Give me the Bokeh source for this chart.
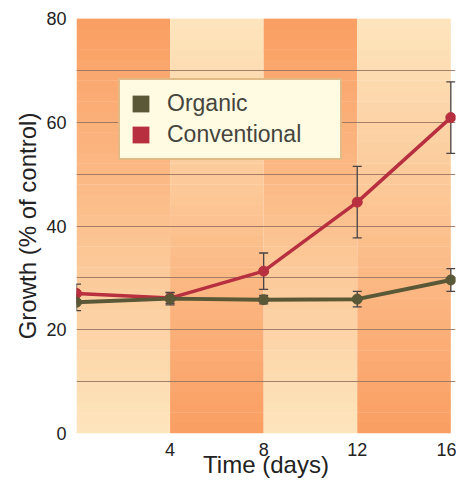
import numpy as np
from bokeh.plotting import figure
from bokeh.models import FixedTicker, Legend, LegendItem, Range1d
from bokeh.embed import file_html
from bokeh.resources import INLINE

# ---- data ----
days = [0, 4, 8, 12, 16]
organic = [25.3, 26.0, 25.8, 25.9, 29.6]
organic_err = [1.6, 1.2, 0.8, 1.5, 2.2]
conventional = [27.0, 26.1, 31.3, 44.6, 60.9]
conventional_err = [1.8, 1.0, 3.5, 6.9, 6.9]
x_ticks = [4, 8, 12, 16]
y_ticks = [0, 20, 40, 60, 80]
grid_ticks = [0, 10, 20, 30, 40, 50, 60, 70, 80]
band_edges = [0, 4, 8, 12, 16]

ORG = "#5a5836"
CONV = "#b8303f"
ERR = "#4a4245"
FONT = "Liberation Sans"

p = figure(width=456, height=487, output_backend="svg", toolbar_location=None,
           x_range=Range1d(0, 16.2), y_range=Range1d(0, 80),
           min_border_left=76, min_border_right=1, min_border_top=18,
           min_border_bottom=54)
p.outline_line_color = None
p.background_fill_color = "white"
p.border_fill_color = "white"

# ---- gradient background bands ----
dark = np.array([250, 158, 98])
light = np.array([253, 229, 189])
N = 40
L, R, B, T, C = [], [], [], [], []
for i in range(len(band_edges) - 1):
    for j in range(N):
        t = (j + 0.5) / N  # 0 bottom -> 1 top
        if i % 2 == 0:
            c = light * (1 - t) + dark * t
        else:
            c = dark * (1 - t) + light * t
        L.append(band_edges[i]); R.append(band_edges[i + 1])
        B.append(80 * j / N); T.append(80 * (j + 1) / N + 0.05)
        C.append("#%02x%02x%02x" % tuple(int(round(v)) for v in c))
bg = p.quad(left=L, right=R, bottom=B, top=T, fill_color=C, line_color=None)
bg.level = "image"

# ---- grid ----
p.xgrid.grid_line_color = None
p.ygrid.ticker = FixedTicker(ticks=grid_ticks)
p.ygrid.grid_line_color = "#94705e"
p.ygrid.grid_line_alpha = 0.85
p.ygrid.grid_line_width = 1.2

# ---- error bars ----
for ys, es in ((organic, organic_err), (conventional, conventional_err)):
    lo = [y - e for y, e in zip(ys, es)]
    hi = [y + e for y, e in zip(ys, es)]
    p.segment(x0=days, x1=days, y0=lo, y1=hi, line_color=ERR, line_width=1.3)
    p.scatter(x=days, y=lo, marker="dash", size=9, line_color=ERR, line_width=1.3)
    p.scatter(x=days, y=hi, marker="dash", size=9, line_color=ERR, line_width=1.3)

# ---- series ----
p.line(days, conventional, line_color=CONV, line_width=3.5)
p.scatter(days, conventional, marker="circle", size=10, fill_color=CONV, line_color=CONV)
p.line(days, organic, line_color=ORG, line_width=4)
p.scatter(days, organic, marker="circle", size=10, fill_color=ORG, line_color=ORG)

# legend swatches (zero-area quads at a data point, used only for the legend)
sw_org = p.quad(left=days[:1], right=days[:1], top=organic[:1], bottom=organic[:1],
                fill_color=ORG, line_color=None)
sw_conv = p.quad(left=days[:1], right=days[:1], top=conventional[:1], bottom=conventional[:1],
                 fill_color=CONV, line_color=None)
legend = Legend(items=[LegendItem(label="Organic", renderers=[sw_org]),
                       LegendItem(label="Conventional", renderers=[sw_conv])],
                location=(42, 273))
legend.glyph_width = 21
legend.glyph_height = 21
legend.label_height = 22
legend.label_width = 163
legend.label_standoff = 16
legend.padding = 10
legend.spacing = 4
legend.margin = 0
legend.label_text_font = FONT
legend.label_text_font_size = "23px"
legend.label_text_color = "#45453d"
legend.background_fill_color = "#fffbe3"
legend.background_fill_alpha = 1
legend.border_line_color = "#c47a2a"
legend.border_line_width = 2
p.add_layout(legend, "center")

# ---- axes ----
for ax in (p.xaxis[0], p.yaxis[0]):
    ax.axis_line_color = None
    ax.major_tick_line_color = None
    ax.minor_tick_line_color = None
    ax.major_label_text_font = FONT
    ax.major_label_text_font_size = "18px"
    ax.major_label_text_color = "#222222"
    ax.axis_label_text_font = FONT
    ax.axis_label_text_font_size = "24px"
    ax.axis_label_text_font_style = "normal"
    ax.axis_label_text_color = "#222222"

p.xaxis.ticker = FixedTicker(ticks=x_ticks)
p.yaxis.ticker = FixedTicker(ticks=y_ticks)
p.xaxis.axis_label = "Time (days)"
p.yaxis.axis_label = "Growth (% of control)"
p.xaxis.major_label_standoff = 3
p.xaxis.axis_label_standoff = -8
p.yaxis.major_label_standoff = 4
p.yaxis.axis_label_standoff = 2

open("out.html", "w").write(file_html(p, INLINE))
